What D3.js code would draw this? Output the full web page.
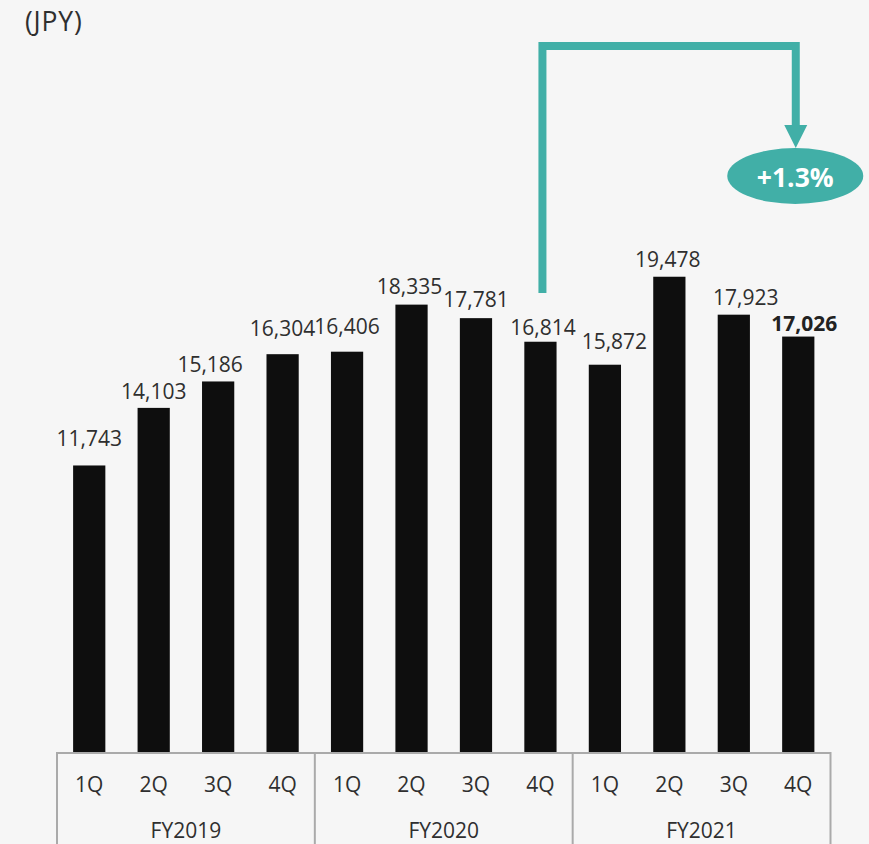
<!DOCTYPE html>
<html>
<head>
<meta charset="utf-8">
<script src="https://cdn.jsdelivr.net/npm/d3@7"></script>
<style>
  html, body { margin: 0; padding: 0; background: #f6f6f6; }
  svg { display: block; }
  text { font-family: "Open Sans", "Noto Sans", sans-serif; }
</style>
</head>
<body>
<svg id="chart" width="869" height="844"></svg>
<script>
// ---- data ----
const quarters = ["1Q", "2Q", "3Q", "4Q", "1Q", "2Q", "3Q", "4Q", "1Q", "2Q", "3Q", "4Q"];
const fiscalYears = ["FY2019", "FY2020", "FY2021"];
const values = [11743, 14103, 15186, 16304, 16406, 18335, 17781, 16814, 15872, 19478, 17923, 17026];
const unitLabel = "(JPY)";
const changeLabel = "+1.3%";

// ---- layout ----
const W = 869, H = 844;
const svg = d3.select("#chart");
svg.append("rect").attr("width", W).attr("height", H).attr("fill", "#f6f6f6");

const ids = values.map((d, i) => i);
const x = d3.scaleBand().domain(ids).range([57, 830.5]).paddingInner(0.5).paddingOuter(0.25);
const y = d3.scaleLinear().domain([0, 20000]).range([752, 264]);

// label nudges (pixel tweaks as in the original)
const labelGap = [19, 9, 9, 18, 18, 11, 11, 7, 16, 10, 10, 6];
const labelDx = [0, 0, -8, 0, 0, -2, 0, 2.5, 9.5, -1.5, 12, 6];

const textColor = "#2f2f2f";
const fontSize = 21;

// unit label
svg.append("text").attr("x", 25).attr("y", 31)
  .attr("font-size", 26.5).attr("fill", textColor).attr("letter-spacing", 0.8)
  .text(unitLabel);

// bars
svg.append("g").selectAll("rect").data(values).join("rect")
  .attr("x", (d, i) => x(i))
  .attr("y", d => y(d))
  .attr("width", x.bandwidth())
  .attr("height", d => y(0) - y(d))
  .attr("fill", "#0e0e0e");

// value labels
svg.append("g").selectAll("text").data(values).join("text")
  .attr("x", (d, i) => x(i) + x.bandwidth() / 2 + labelDx[i])
  .attr("y", (d, i) => y(d) - labelGap[i])
  .attr("text-anchor", "middle")
  .attr("font-size", fontSize)
  .attr("font-weight", (d, i) => i === values.length - 1 ? "bold" : "normal")
  .attr("fill", (d, i) => i === values.length - 1 ? "#222" : textColor)
  .text(d => d3.format(",")(d));

// axis: baseline and group separators
const axisColor = "#aaaaaa";
const left = x.range()[0], right = x.range()[1];
svg.append("line").attr("x1", left).attr("x2", right).attr("y1", 753).attr("y2", 753)
  .attr("stroke", axisColor).attr("stroke-width", 2);
const groupSize = 4;
const sepIdx = d3.range(0, quarters.length + 1, groupSize);
svg.append("g").selectAll("line").data(sepIdx).join("line")
  .attr("x1", i => left + x.step() * i).attr("x2", i => left + x.step() * i)
  .attr("y1", 752).attr("y2", H)
  .attr("stroke", axisColor).attr("stroke-width", 2);

// quarter labels
svg.append("g").selectAll("text").data(quarters).join("text")
  .attr("x", (d, i) => x(i) + x.bandwidth() / 2)
  .attr("y", 791.5)
  .attr("text-anchor", "middle")
  .attr("font-size", fontSize).attr("fill", textColor)
  .text(d => d);

// fiscal year labels
svg.append("g").selectAll("text").data(fiscalYears).join("text")
  .attr("x", (d, g) => left + x.step() * (g * groupSize + groupSize / 2))
  .attr("y", 838)
  .attr("text-anchor", "middle")
  .attr("font-size", fontSize).attr("fill", textColor)
  .text(d => d);

// comparison arrow: FY2020 4Q -> FY2021 4Q
const teal = "#41afa7";
const fromI = 7, toI = 11;
const fx = x(fromI) + x.bandwidth() / 2 + 2;
const tx = x(toI) + x.bandwidth() / 2 - 2.5;
svg.append("path")
  .attr("d", `M${fx},293 V46 H${tx} V127`)
  .attr("fill", "none").attr("stroke", teal).attr("stroke-width", 8)
  .attr("stroke-linejoin", "miter");
svg.append("path")
  .attr("d", `M${tx - 11.5},125 L${tx + 11.5},125 L${tx},148 Z`)
  .attr("fill", teal);
svg.append("ellipse").attr("cx", tx - 0.5).attr("cy", 176).attr("rx", 68).attr("ry", 28)
  .attr("fill", teal);
svg.append("text").attr("x", tx - 0.5).attr("y", 187)
  .attr("text-anchor", "middle").attr("font-size", 26.5).attr("font-weight", "bold")
  .attr("fill", "#ffffff")
  .text(changeLabel);
</script>
</body>
</html>
